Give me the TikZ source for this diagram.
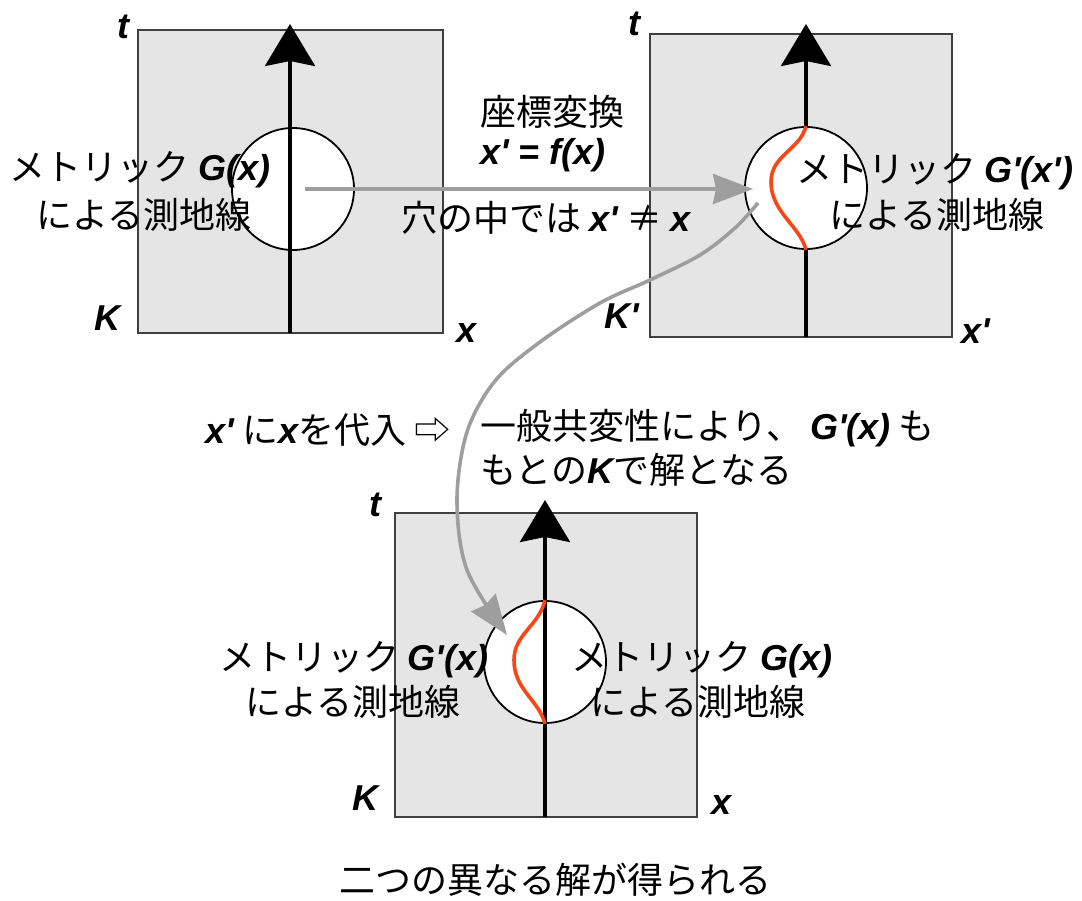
\documentclass[tikz,border=0pt]{standalone}
\usepackage{fontspec}
\setmainfont{Liberation Sans}
\newfontfamily\jp{Noto Sans CJK JP}
\usetikzlibrary{arrows.meta,calc}
\newcommand\vb[1]{{\normalfont\bfseries\itshape #1}}
\newcommand\pr{\textquotesingle}
\tikzset{
  panel/.style={draw=black!75, line width=1.8pt, fill=black!10, inner sep=0pt},
  hole/.style={draw=black, line width=1.8pt, fill=white, circle, minimum size=122pt, inner sep=0pt},
  axisline/.style={line width=3.6pt, black},
  axistip/.style={-{Stealth[length=42pt,width=50pt,inset=5pt]}},
  geo/.style={line width=3.6pt, color={rgb,255:red,250;green,70;blue,20}},
  grey/.style={line width=3.6pt, color=black!38, -{Stealth[length=40pt,width=30pt,inset=3pt]}},
  txt/.style={inner sep=0pt, font=\jp\fontsize{36}{42}\selectfont},
  lbl/.style={inner sep=0pt, font=\fontsize{36}{40}\selectfont\bfseries\itshape},
}
\begin{document}
\begin{tikzpicture}[x=1pt,y=-1pt]
\useasboundingbox (0,0) rectangle (1082,901);
% panels
\node[panel, minimum width=305pt, minimum height=303pt] (p1) at (290.5,181.5) {};
\node[panel, minimum width=302pt, minimum height=303pt] (p2) at (801,185.5) {};
\node[panel, minimum width=302pt, minimum height=304pt] (p3) at (546,665) {};
% holes
\node[hole] (h1) at (293,189) {};
\node[hole] (h2) at (806,188) {};
\node[hole] (h3) at (545,662) {};
% axes
\coordinate (a1) at (290,24);
\coordinate (a2) at (806,24);
\coordinate (a3) at (545,500);
\draw[axisline,axistip] (290,333) -- (a1);
\draw[axisline] (806,337) -- (h2.south);
\draw[axisline,axistip] (h2.north) -- (a2);
\draw[axisline,axistip] (545,817) -- (a3);
% geodesics
\draw[geo] (h2.north) .. controls (800,150) and (771,155) .. (771,182) .. controls (771,212) and (800,226) .. (h2.south);
\draw[geo] (h3.north) .. controls (539,626) and (514,634) .. (514,660) .. controls (514,690) and (539,700) .. (h3.south);
% grey arrows
\coordinate (g1) at (305,189);
\coordinate (g2) at (758,203);
\coordinate (g3) at (507,635);
\draw[grey] (g1) -- (753,189);
\draw[grey] plot[smooth, tension=0.55] coordinates {(g2) (735,228) (700,255) (650,280) (600,303) (540,342) (495,381) (467,432) (457,500) (467,570) (g3)};
% panel labels
\node[lbl] (t1) at (123,27) {t};
\node[lbl] (k1) at (107,318) {K};
\node[lbl] (x1) at (467,333) {x};
\node[lbl] (t2) at (634,24) {t};
\node[lbl] (k2) at (622,316) {K\pr};
\node[lbl] (x2) at (976,331) {x\pr};
\node[lbl] (t3) at (375,505) {t};
\node[lbl] (k3) at (365,798) {K};
\node[lbl] (x3) at (722,805) {x};
% texts
\node[txt] (m1) at (140,170) {メトリック \vb{G(x)}};
\node[txt] (m1b) at (144,215) {による測地線};
\node[txt,anchor=west] (m2) at (796,172) {メトリック \vb{G\pr(x\pr)}};
\node[txt] (m2b) at (937,215) {による測地線};
\node[txt] (c1) at (552,112) {座標変換};
\node[txt] (c2) at (543,155) {\vb{x\pr\ = f(x)}};
\node[txt] (c3) at (546,218) {穴の中では \vb{x\pr} ≠ \vb{x}};
\node[txt] (s1) at (328,430) {\vb{x\pr} に\vb{x}を代入 ⇨};
\node[txt,anchor=west] (s2) at (480,428) {一般共変性により、 \vb{G\pr(x)} も};
\node[txt,anchor=west] (s3) at (480,470) {もとの\vb{K}で解となる};
\node[txt] (m3a) at (354,660) {メトリック \vb{G\pr(x)}};
\node[txt] (m3ab) at (353,702) {による測地線};
\node[txt] (m3b) at (702,660) {メトリック \vb{G(x)}};
\node[txt] (m3bb) at (698,702) {による測地線};
\node[txt] (bot) at (555,880) {二つの異なる解が得られる};
\end{tikzpicture}
\end{document}
